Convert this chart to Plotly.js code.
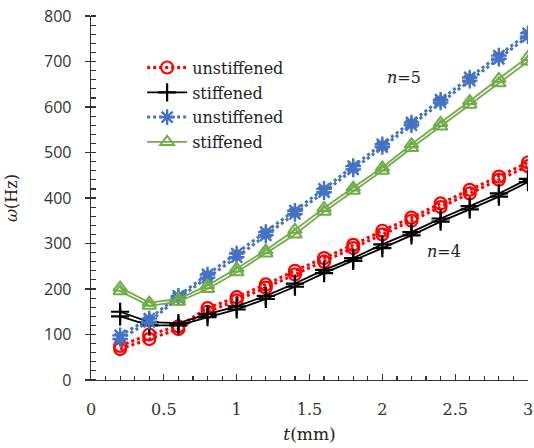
<!DOCTYPE html>
<html>
<head>
<meta charset="utf-8">
<script src="https://cdn.plot.ly/plotly-3.0.1.min.js"></script>
<style>html,body{margin:0;padding:0;background:#fff;}#chart{width:534px;height:448px;}</style>
</head>
<body>
<div id="chart"></div>
<script>
// thickness t (mm)
const t = [0.2,0.4,0.6,0.8,1.0,1.2,1.4,1.6,1.8,2.0,2.2,2.4,2.6,2.8,3.0];

// n = 4, unstiffened (two close curves)
const n4Unstiff_a = [75,100,118,158,182,210,240,268,297,328,357,388,418,447,478];
const n4Unstiff_b = [68,90,112,150,175,203,232,260,290,320,350,380,410,440,470];
// n = 4, stiffened
const n4Stiff_a = [150,127,125,145,162,185,212,242,268,298,325,355,382,410,442];
const n4Stiff_b = [140,120,120,138,155,178,205,235,262,290,318,348,375,403,435];
// n = 5, unstiffened
const n5Unstiff_a = [98,135,185,232,278,325,372,420,470,518,566,616,665,713,762];
const n5Unstiff_b = [90,128,180,225,270,318,365,413,463,512,560,610,658,706,755];
// n = 5, stiffened
const n5Stiff_a = [203,170,178,208,245,285,330,378,423,467,518,565,613,662,710];
const n5Stiff_b = [195,163,172,200,237,278,320,370,416,460,510,557,605,652,700];

const legendNames = ['unstiffened','stiffened','unstiffened','stiffened'];
const xTickVals = [0,0.5,1,1.5,2,2.5,3];
const xTickText = ['0','0.5','1','1.5','2','2.5','3'];
const yTickVals = [0,100,200,300,400,500,600,700,800];

const styles = [
  {color:'#FF0000', dash:'dot', width:3, symbol:'circle-open', size:12, mlw:2.2},
  {color:'#000000', dash:'solid', width:1.8, symbol:'cross-thin-open', size:13, mlw:2.2},
  {color:'#4472C4', dash:'dot', width:3, symbol:'asterisk-open', size:13, mlw:2.4},
  {color:'#70AD47', dash:'solid', width:1.8, symbol:'triangle-up-open', size:12, mlw:2}
];
const pairs = [[n4Unstiff_a,n4Unstiff_b],[n4Stiff_a,n4Stiff_b],[n5Unstiff_a,n5Unstiff_b],[n5Stiff_a,n5Stiff_b]];

const traces = [];
pairs.forEach((p,i)=>{
  const s = styles[i];
  p.forEach((ys,j)=>{
    traces.push({
      x:t, y:ys, type:'scatter', mode:'lines+markers',
      name: legendNames[i], showlegend: j===0, legendgroup:'g'+i,
      line:{color:s.color, dash:s.dash, width:s.width},
      marker:{symbol:s.symbol, size:s.size, color:s.color, line:{color:s.color, width:s.mlw}}
    });
  });
});

const serif = '"DejaVu Serif", "Liberation Serif", serif';
const layout = {
  width:534, height:448,
  margin:{l:91, r:6, t:16, b:68},
  paper_bgcolor:'#fff', plot_bgcolor:'#fff',
  showlegend:true,
  legend:{x:0.117, y:0.905, xanchor:'left', yanchor:'top', bgcolor:'rgba(0,0,0,0)',
          traceorder:'grouped', tracegroupgap:1,
          font:{family:serif, size:16, color:'#222'}, itemwidth:40},
  xaxis:{range:[0,3], showgrid:false, zeroline:false, showline:true, linecolor:'#333', linewidth:1.3,
         tickmode:'array', tickvals:xTickVals, ticktext:xTickText,
         ticks:'inside', ticklen:6, tickcolor:'#333', tickwidth:1.3,
         minor:{ticks:'inside', dtick:0.1, ticklen:4, tickcolor:'#333', tickwidth:1.2},
         tickfont:{family:serif, size:16, color:'#333'}, ticklabelstandoff:14,
         title:{text:'<i>t</i>(mm)', font:{family:serif, size:17, color:'#222'}, standoff:10}},
  yaxis:{range:[0,800], showgrid:false, zeroline:false, showline:true, linecolor:'#333', linewidth:1.3,
         tickmode:'array', tickvals:yTickVals,
         ticks:'outside', ticklen:5, tickcolor:'#333', tickwidth:1.3,
         minor:{ticks:'inside', dtick:20, ticklen:5, tickcolor:'#333', tickwidth:1.2},
         tickfont:{family:'"Open Sans", "Liberation Sans", sans-serif', size:16, color:'#333'}, ticklabelstandoff:10,
         title:{text:'<i>ω</i>(Hz)', font:{family:serif, size:16, color:'#222'}, standoff:22}},
  yaxis2:{overlaying:'y', range:[0,800], side:'left', showgrid:false, zeroline:false, showline:false,
          tickmode:'array', tickvals:yTickVals, showticklabels:false,
          ticks:'inside', ticklen:6, tickcolor:'#333', tickwidth:1.3},
  annotations:[
    {x:2.15, y:664, xref:'x', yref:'y', text:'<i>n</i>=5', showarrow:false, font:{family:serif, size:16, color:'#222'}},
    {x:2.42, y:283, xref:'x', yref:'y', text:'<i>n</i>=4', showarrow:false, font:{family:serif, size:16, color:'#222'}}
  ]
};

Plotly.newPlot('chart', traces, layout, {displayModeBar:false, staticPlot:true});
</script>
</body>
</html>
